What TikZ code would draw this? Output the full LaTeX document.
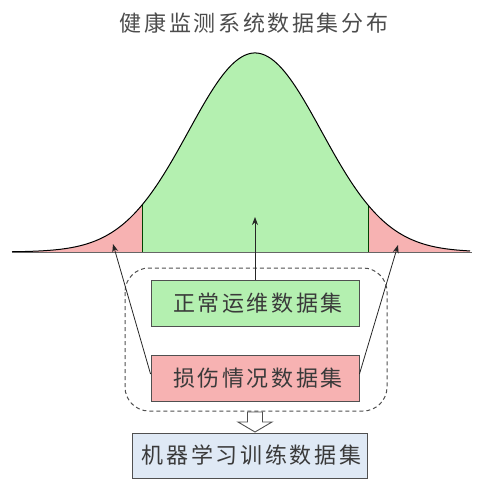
\documentclass[tikz,border=0pt]{standalone}
\usepackage{fontspec}
\newfontfamily\cjk[LetterSpace=12]{Noto Sans CJK SC}
\usetikzlibrary{arrows.meta}
\definecolor{gfill}{HTML}{B4F0B0}
\definecolor{rfill}{HTML}{F7B2B2}
\definecolor{bfill}{HTML}{DFE9F5}
\definecolor{txt}{HTML}{3A3A3A}
\definecolor{edge}{HTML}{505050}
\tikzset{
  databox/.style={draw=edge, line width=0.9pt, minimum width=208pt, minimum height=46pt, inner sep=0pt,
    font=\cjk\fontsize{22}{24}\selectfont, text=txt},
  pointer/.style={line width=0.8pt, draw=black!85, -{Stealth[length=8pt,width=6pt]}},
}
\pgfmathdeclarefunction{gauss}{1}{\pgfmathparse{252-199*exp(-0.5*((#1-255)/66.5)^2)}}
\begin{document}
\begin{tikzpicture}[x=1pt,y=-1pt]
\useasboundingbox (0,0) rectangle (482,479);
% title
\node[font=\cjk\fontsize{22}{24}\selectfont, text=black!70] (title) at (254,23) {健康监测系统数据集分布};
% distribution fills
\fill[rfill] plot[domain=12:142, samples=60] (\x,{gauss(\x)}) -- (142,252) -- (12,252) -- cycle;
\fill[gfill] plot[domain=142:368, samples=100] (\x,{gauss(\x)}) -- (368,252) -- (142,252) -- cycle;
\fill[rfill] plot[domain=368:470, samples=60] (\x,{gauss(\x)}) -- (470,252) -- (368,252) -- cycle;
\draw[black!55!green!60!black, line width=0.7pt] (142,{gauss(142)}) -- (142,252);
\draw[black!55!green!60!black, line width=0.7pt] (368,{gauss(368)}) -- (368,252);
\draw[black, line width=1pt] plot[domain=12:470, samples=200, smooth] (\x,{gauss(\x)});
\draw[black!60, line width=1pt] (12,252) -- (472,252);
% boxes
\node[databox, fill=gfill] (g) at (255,303) {\hspace*{6pt}正常运维数据集};
\node[databox, fill=rfill] (r) at (255,378) {\hspace*{6pt}损伤情况数据集};
\node[databox, fill=bfill, minimum width=235pt, minimum height=45pt] (b) at (249.5,455.5) {\hspace*{4pt}机器学习训练数据集};
% dashed group
\draw[edge, line width=1pt, dash pattern=on 4pt off 3pt, rounded corners=24pt] (125,268) rectangle (387,411);
% pointers
\coordinate (mid) at (255,217);
\coordinate (lt) at (113,244);
\coordinate (rt) at (398,245);
\draw[pointer] (g.north) -- (mid);
\draw[pointer] ([yshift=4pt]r.west) -- (lt);
\draw[pointer] ([yshift=4pt]r.east) -- (rt);
% hollow arrow
\draw[edge, fill=white, line width=0.9pt] (247.5,412) -- (262.5,412) -- (262.5,422) -- (272,422) -- (255,432) -- (238,422) -- (247.5,422) -- cycle;
\end{tikzpicture}
\end{document}
